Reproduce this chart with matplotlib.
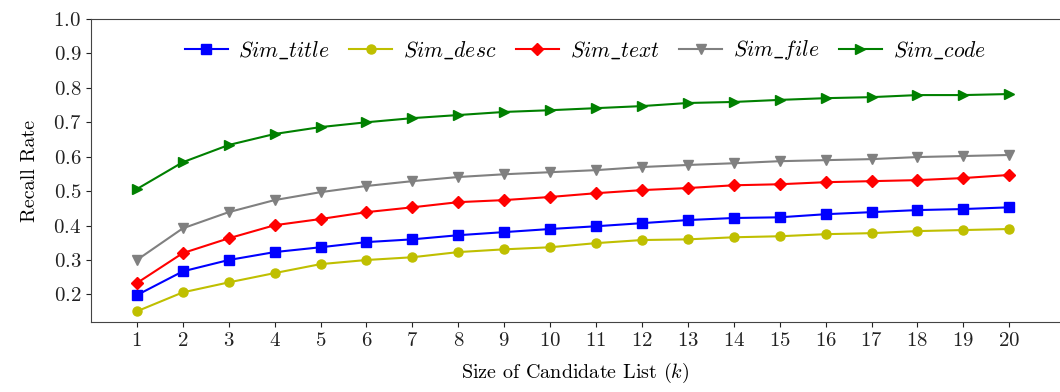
import matplotlib
matplotlib.use('Agg')
import matplotlib.pyplot as plt

plt.rcParams['font.family'] = 'serif'
plt.rcParams['font.serif'] = ['cmr10', 'DejaVu Serif']
plt.rcParams['mathtext.fontset'] = 'cm'
plt.rcParams['axes.formatter.use_mathtext'] = True

# Recall rate for each candidate list size k
k = list(range(1, 21))
sim_title = [0.198, 0.267, 0.300, 0.323, 0.337, 0.352, 0.360, 0.372, 0.381, 0.390,
             0.398, 0.407, 0.416, 0.422, 0.424, 0.433, 0.439, 0.445, 0.448, 0.453]
sim_desc = [0.151, 0.206, 0.235, 0.262, 0.288, 0.300, 0.308, 0.323, 0.331, 0.337,
            0.349, 0.358, 0.360, 0.366, 0.369, 0.375, 0.378, 0.384, 0.387, 0.390]
sim_text = [0.233, 0.320, 0.363, 0.401, 0.419, 0.439, 0.453, 0.468, 0.474, 0.483,
            0.494, 0.503, 0.509, 0.517, 0.520, 0.526, 0.529, 0.532, 0.538, 0.547]
sim_file = [0.300, 0.392, 0.439, 0.474, 0.497, 0.515, 0.529, 0.541, 0.549, 0.555,
            0.561, 0.570, 0.576, 0.581, 0.587, 0.590, 0.593, 0.599, 0.602, 0.605]
sim_code = [0.506, 0.584, 0.634, 0.666, 0.686, 0.700, 0.712, 0.721, 0.730, 0.735,
            0.741, 0.747, 0.756, 0.759, 0.765, 0.770, 0.773, 0.779, 0.779, 0.782]

series = [
    (sim_title, 'b', 's', r'$Sim\_title$'),
    (sim_desc, 'y', 'o', r'$Sim\_desc$'),
    (sim_text, 'r', 'D', r'$Sim\_text$'),
    (sim_file, 'gray', 'v', r'$Sim\_file$'),
    (sim_code, 'g', '>', r'$Sim\_code$'),
]

fig = plt.figure(figsize=(10.6, 3.92), dpi=100)
ax = fig.add_axes([0.0858, 0.1786, 0.914, 0.773])

for vals, color, marker, label in series:
    ax.plot(k, vals, color=color, marker=marker, markersize=6.5, linewidth=1.5, label=label)

ax.set_xlim(0, 21.1)
ax.set_ylim(0.12, 1.0)
ax.set_xticks(k)
ax.set_yticks([0.2, 0.3, 0.4, 0.5, 0.6, 0.7, 0.8, 0.9, 1.0])
ax.tick_params(labelsize=15, colors='#222222')
ax.set_xlabel(r'Size of Candidate List ($k$)', fontsize=14.5, labelpad=8)
ax.set_ylabel('Recall Rate', fontsize=14.5, labelpad=10)
ax.spines['right'].set_visible(False)
for s in ['left', 'top', 'bottom']:
    ax.spines[s].set_color('#444444')

ax.legend(loc='upper center', bbox_to_anchor=(0.51, 1.0), ncol=5, frameon=False,
          fontsize=15.5, handlelength=2.0, columnspacing=0.9, handletextpad=0.5)

fig.savefig('out.png', dpi=100)
